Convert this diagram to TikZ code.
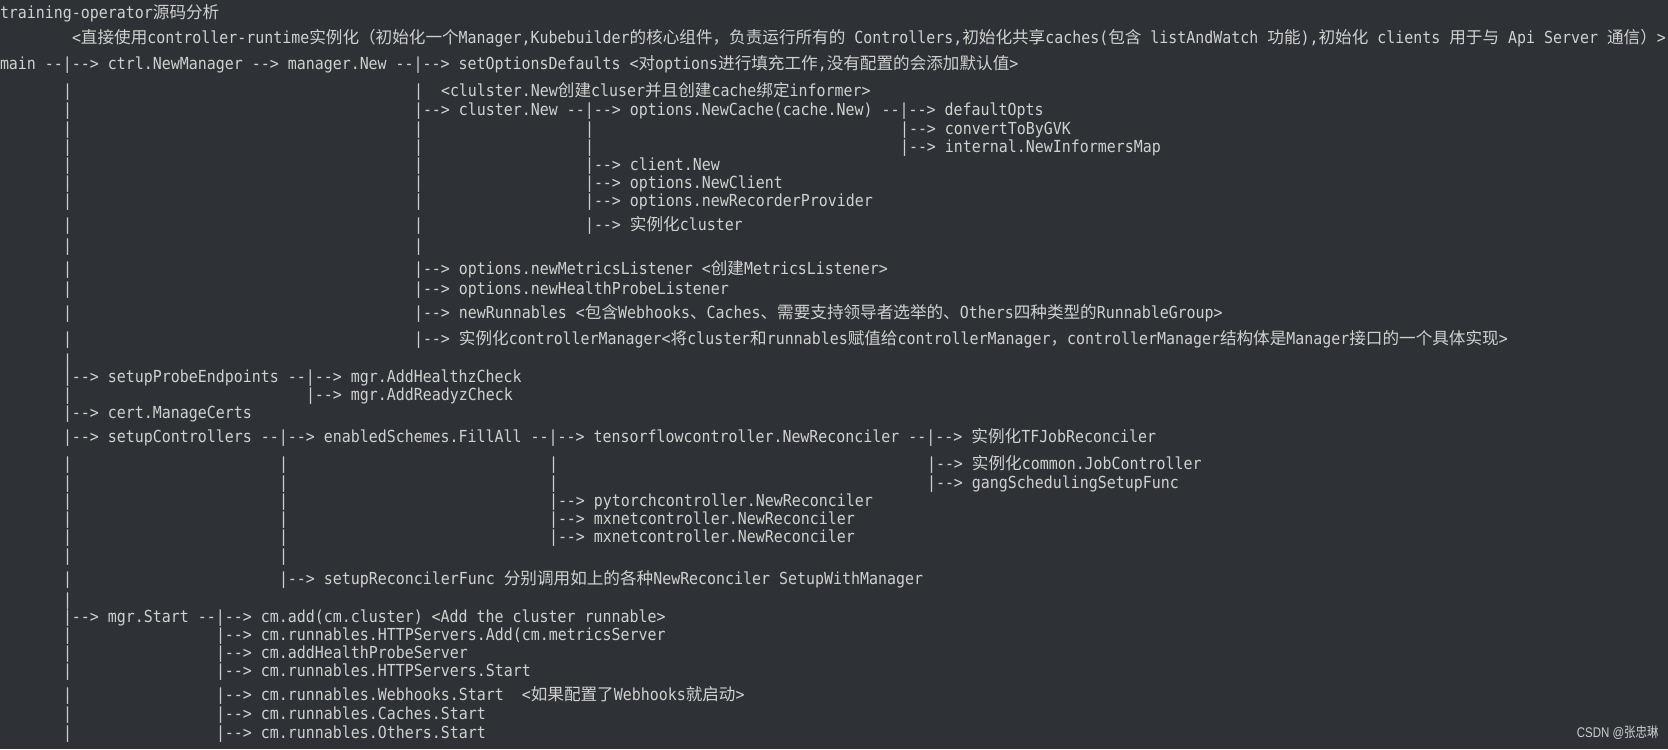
\documentclass[tikz,border=0pt]{standalone}
\usepackage{fontspec}
\setmonofont[FakeStretch=0.9]{DejaVu Sans Mono}
\newfontfamily\cjkfam{Noto Sans CJK SC}
\newfontfamily\wmfam[FakeStretch=0.82]{Liberation Sans}
\newfontfamily\wmcjk[FakeStretch=0.82]{Noto Sans CJK SC}
\definecolor{bg}{RGB}{46,50,54}
\definecolor{fg}{RGB}{208,208,206}
\definecolor{wm}{RGB}{205,205,205}
\newcommand\zh[1]{{\cjkfam\fontsize{8.3pt}{10pt}\selectfont#1}}
\newcommand\monof{\ttfamily\fontsize{8.3pt}{10pt}\selectfont}
\newcounter{nn}
\newcommand\T[3]{\stepcounter{nn}\node[txt] (n\arabic{nn}) at (#1*9,#2) {#3};}
\newcommand\B[2]{\T{#1}{#2}{|}}
\tikzset{txt/.style={anchor=base west, inner sep=0pt, outer sep=0pt, text=fg, font=\monof}}
\begin{document}
\begin{tikzpicture}[x=0.5pt,y=-0.5pt]
\fill[bg] (0,0) rectangle (1668,749);
\useasboundingbox (0,0) rectangle (1668,749);
% row 1-3
\T{0}{19}{training-operator\zh{源码分析}}
\T{8}{44}{<\zh{直接使用}controller-runtime\zh{实例化（初始化一个}Manager,Kubebuilder\zh{的核心组件，负责运行所有的} Controllers,\zh{初始化共享}caches(\zh{包含} listAndWatch \zh{功能}),\zh{初始化} clients \zh{用于与} Api Server \zh{通信}\zh{）}>}
\T{0}{70}{main --|--> ctrl.NewManager --> manager.New --|--> setOptionsDefaults <\zh{对}options\zh{进行填充工作},\zh{没有配置的会添加默认值}>}
% cluster
\B{7}{96.5}\B{46}{96.5}
\T{49}{96.5}{<clulster.New\zh{创建}cluser\zh{并且创建}cache\zh{绑定}informer>}
\B{7}{116}
\T{46}{116}{|--> cluster.New --|--> options.NewCache(cache.New) --|--> defaultOpts}
\B{7}{134}\B{46}{134}\B{65}{134}
\T{100}{134}{|--> convertToByGVK}
\B{7}{152}\B{46}{152}\B{65}{152}
\T{100}{152}{|--> internal.NewInformersMap}
\B{7}{170.5}\B{46}{170.5}
\T{65}{170.5}{|--> client.New}
\B{7}{188}\B{46}{188}
\T{65}{188}{|--> options.NewClient}
\B{7}{206}\B{46}{206}
\T{65}{206}{|--> options.newRecorderProvider}
\B{7}{230.5}\B{46}{230.5}
\T{65}{230.5}{|--> \zh{实例化}cluster}
\B{7}{251.5}\B{46}{251.5}
\B{7}{274.5}
\T{46}{274.5}{|--> options.newMetricsListener <\zh{创建}MetricsListener>}
\B{7}{294}
\T{46}{294}{|--> options.newHealthProbeListener}
\B{7}{318}
\T{46}{318}{|--> newRunnables <\zh{包含}Webhooks\zh{、}Caches\zh{、需要支持领导者选举的、}Others\zh{四种类型的}RunnableGroup>}
\B{7}{344.5}
\T{46}{344.5}{|--> \zh{实例化}controllerManager<\zh{将}cluster\zh{和}runnables\zh{赋值给}controllerManager\zh{，}controllerManager\zh{结构体是}Manager\zh{接口的一个具体实现}>}
\B{7}{366}
% probes
\T{7}{382.7}{|--> setupProbeEndpoints --|--> mgr.AddHealthzCheck}
\B{7}{400.5}
\T{34}{400.5}{|--> mgr.AddReadyzCheck}
\T{7}{418.5}{|--> cert.ManageCerts}
% controllers
\T{7}{442.5}{|--> setupControllers --|--> enabledSchemes.FillAll --|--> tensorflowcontroller.NewReconciler --|--> \zh{实例化}TFJobReconciler}
\B{7}{469}\B{31}{469}\B{61}{469}
\T{103}{469}{|--> \zh{实例化}common.JobController}
\B{7}{488}\B{31}{488}\B{61}{488}
\T{103}{488}{|--> gangSchedulingSetupFunc}
\B{7}{506.5}\B{31}{506.5}
\T{61}{506.5}{|--> pytorchcontroller.NewReconciler}
\B{7}{524}\B{31}{524}
\T{61}{524}{|--> mxnetcontroller.NewReconciler}
\B{7}{542}\B{31}{542}
\T{61}{542}{|--> mxnetcontroller.NewReconciler}
\B{7}{561.5}\B{31}{561.5}
\B{7}{584}
\T{31}{584}{|--> setupReconcilerFunc \zh{分别调用如上的各种}NewReconciler SetupWithManager}
\B{7}{605.5}
% start
\T{7}{622.5}{|--> mgr.Start --|--> cm.add(cm.cluster) <Add the cluster runnable>}
\B{7}{640.5}
\T{24}{640.5}{|--> cm.runnables.HTTPServers.Add(cm.metricsServer}
\B{7}{658}
\T{24}{658}{|--> cm.addHealthProbeServer}
\B{7}{676}
\T{24}{676}{|--> cm.runnables.HTTPServers.Start}
\B{7}{700}
\T{24}{700}{|--> cm.runnables.Webhooks.Start\ \ <\zh{如果配置了}Webhooks\zh{就启动}>}
\B{7}{719.5}
\T{24}{719.5}{|--> cm.runnables.Caches.Start}
\B{7}{738}
\T{24}{738}{|--> cm.runnables.Others.Start}
% watermark
\node[anchor=base east, inner sep=0pt, text=wm, font=\wmfam\fontsize{7pt}{8pt}\selectfont] (wmk) at (1659,737) {CSDN @{\wmcjk 张忠琳}};
\end{tikzpicture}
\end{document}
